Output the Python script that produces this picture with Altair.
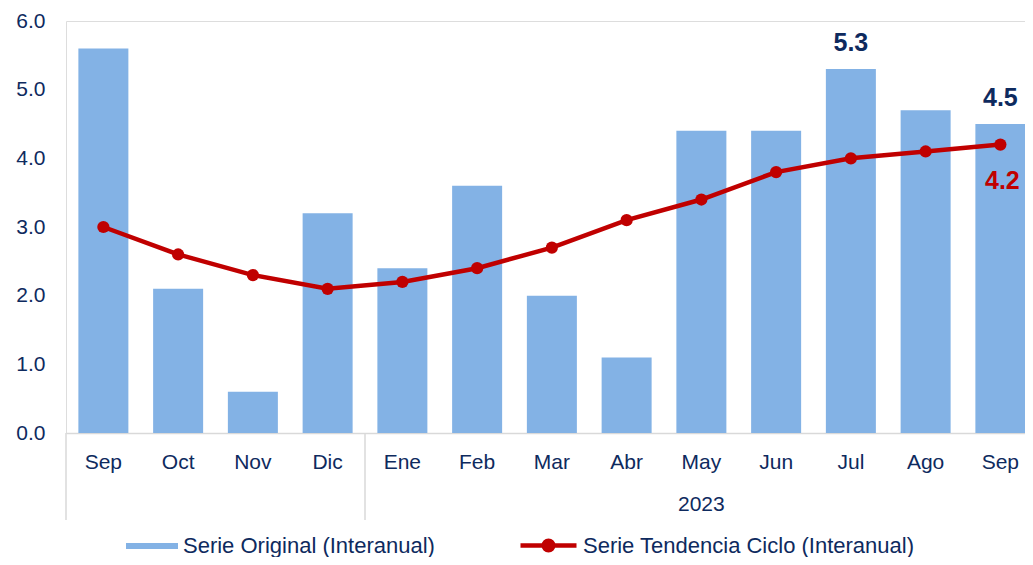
import json
import altair as alt
import pandas as pd

# ---- data ----
months = ["Sep", "Oct", "Nov", "Dic", "Ene", "Feb", "Mar", "Abr", "May", "Jun", "Jul", "Ago", "Sep"]
original = [5.6, 2.1, 0.6, 3.2, 2.4, 3.6, 2.0, 1.1, 4.4, 4.4, 5.3, 4.7, 4.5]
trend = [3.0, 2.6, 2.3, 2.1, 2.2, 2.4, 2.7, 3.1, 3.4, 3.8, 4.0, 4.1, 4.2]
bar_label_idx = [10, 12]
line_label_idx = [12]
group_names = ["", "2023"]
group_starts = [0, 4]
group_ends = [3, 12]
y_ticks = [0, 1, 2, 3, 4, 5, 6]
name_orig = "Serie Original (Interanual)"
name_trend = "Serie Tendencia Ciclo (Interanual)"

# ---- styling ----
FONT = "Liberation Sans"
NAVY = "#0e2a5e"
BLUE = "#83b2e5"
RED = "#c00000"
GRAY = "#d9d9d9"
STEP = 74.75
N = len(months)
W = 959
H = 412
FS = 21

df = pd.DataFrame({
    "idx": list(range(N)),
    "orig": original,
    "trend": trend,
    "s1": [name_orig] * N,
    "s2": [name_trend] * N,
})
df["lab_orig"] = [f"{v:.1f}" if i in bar_label_idx else "" for i, v in enumerate(original)]
df["lab_trend"] = [f"{v:.1f}" if i in line_label_idx else "" for i, v in enumerate(trend)]

groups = pd.DataFrame({
    "start": group_starts,
    "center": [(a + b) / 2 for a, b in zip(group_starts, group_ends)],
    "name": group_names,
})

xscale = alt.Scale(domain=list(range(N)), range=[0, STEP * N], paddingInner=0, paddingOuter=0)
label_expr = f"{json.dumps(months)}[datum.value]"
xaxis = alt.Axis(
    title=None, labelExpr=label_expr, labelAngle=0, labelFontSize=FS, labelColor=NAVY,
    labelFont=FONT, labelBaseline="middle", labelPadding=29, ticks=False, tickSize=0,
    domainColor=GRAY, domainWidth=1.5, grid=False,
)
yscale = alt.Scale(domain=[0, 6], nice=False)
yaxis = alt.Axis(
    title=None, values=y_ticks, format=".1f", labelFontSize=FS, labelColor=NAVY,
    labelFont=FONT, labelPadding=21, ticks=False, tickSize=0, domain=False, grid=False,
)

base = alt.Chart(df)

bars = base.mark_bar(width=alt.RelativeBandSize(50 / STEP)).encode(
    x=alt.X("idx:O", scale=xscale, axis=xaxis),
    y=alt.Y("orig:Q", scale=yscale, axis=yaxis),
    fill=alt.Fill(
        "s1:N",
        scale=alt.Scale(domain=[name_orig], range=[BLUE]),
        legend=alt.Legend(
            title=None, orient="none", legendX=60, legendY=499, direction="horizontal",
            symbolType="M-1,-0.115H1V0.115H-1Z", symbolSize=2704, symbolStrokeWidth=0,
            labelFontSize=22, labelColor=NAVY, labelFont=FONT, labelOffset=5,
            labelLimit=500, padding=0,
        ),
    ),
)

line = base.mark_line(strokeWidth=4.5).encode(
    x=alt.X("idx:O", scale=xscale),
    y=alt.Y("trend:Q", scale=yscale),
    stroke=alt.Stroke(
        "s2:N",
        scale=alt.Scale(domain=[name_trend], range=[RED]),
        legend=alt.Legend(
            title=None, orient="none", legendX=452, legendY=494, direction="horizontal",
            symbolType="M-1,0H1M-0.17,0a0.17,0.17 0 1,0 0.34,0a0.17,0.17 0 1,0 -0.34,0",
            symbolSize=3136, symbolStrokeWidth=4.5, symbolFillColor=RED,
            labelFontSize=22, labelColor=NAVY, labelFont=FONT, labelOffset=4,
            labelLimit=500, padding=0,
        ),
    ),
)

points = base.mark_point(filled=True, size=150, color=RED, opacity=1).encode(
    x=alt.X("idx:O", scale=xscale),
    y=alt.Y("trend:Q", scale=yscale),
)

bar_labels = base.mark_text(
    fontSize=25, fontWeight="bold", color=NAVY, font=FONT, dy=-26, baseline="middle"
).encode(
    x=alt.X("idx:O", scale=xscale),
    y=alt.Y("orig:Q", scale=yscale),
    text="lab_orig:N",
)

line_labels = base.mark_text(
    fontSize=25, fontWeight="bold", color=RED, font=FONT, dy=36, dx=2, baseline="middle"
).encode(
    x=alt.X("idx:O", scale=xscale),
    y=alt.Y("trend:Q", scale=yscale),
    text="lab_trend:N",
)

seps = alt.Chart(groups).mark_rule(color=GRAY, strokeWidth=1.5).encode(
    x=alt.X("start:O", scale=xscale, bandPosition=0),
    y=alt.value(H),
    y2=alt.value(H + 87),
)

group_text = alt.Chart(groups).mark_text(
    fontSize=FS, color=NAVY, font=FONT, baseline="middle"
).encode(
    x=alt.X("center:O", scale=xscale),
    y=alt.value(H + 72),
    text="name:N",
)

chart = alt.layer(bars, line, points, bar_labels, line_labels, seps, group_text).properties(
    width=W,
    height=H,
    autosize=alt.AutoSizeParams(type="none"),
    padding={"left": 58, "top": 13, "right": 0, "bottom": 124},
).configure_view(stroke=None).configure(font=FONT)

chart.save("out.html", embed_options={"renderer": "svg", "actions": False})
